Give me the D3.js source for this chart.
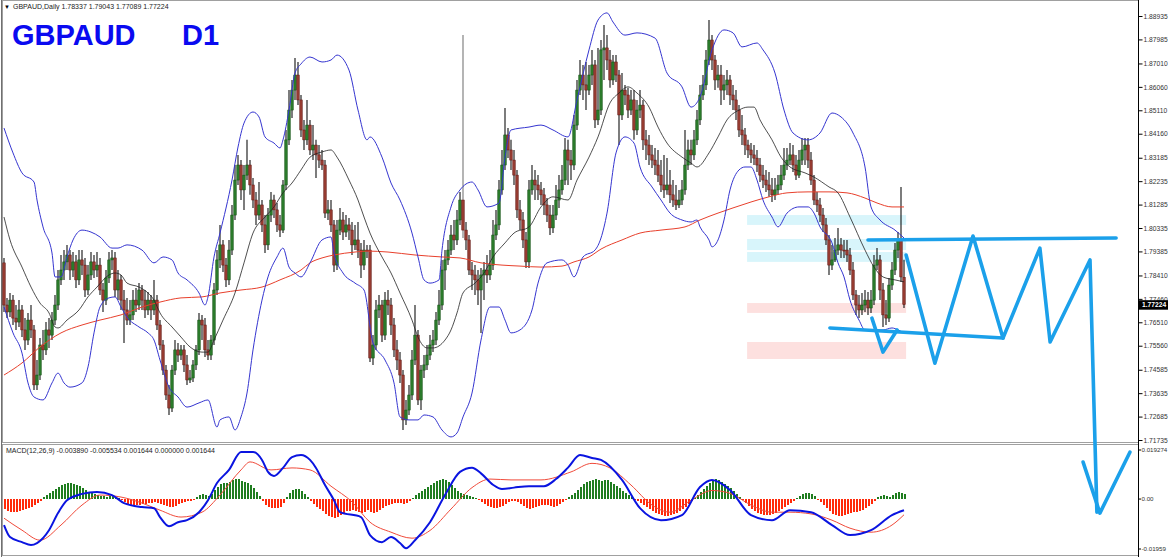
<!DOCTYPE html>
<html><head><meta charset="utf-8">
<script src="https://cdn.jsdelivr.net/npm/d3@7"></script>
<style>
html,body{margin:0;padding:0;background:#fff;overflow:hidden;}
svg{display:block;font-family:"Liberation Sans",Arial,sans-serif;}
</style></head><body>
<svg id="c" width="1168" height="557"></svg>
<script>
// ---------------- DATA ----------------
const symbolTitle = "GBPAUD";
const periodTitle = "D1";
const headerText = "GBPAUD,Daily  1.78337 1.79043 1.77089 1.77224";
const macdText = "MACD(12,26,9) -0.003890 -0.005534 0.001644 0.000000 0.001644";
const priceTicks = [1.88935,1.87985,1.87010,1.86060,1.85110,1.84160,1.83185,1.82235,1.81285,1.80335,1.79385,1.78410,1.77460,1.76510,1.75560,1.74585,1.73635,1.72685,1.71735];
const macdTicks = [0.019274, 0, -0.01959];
const macdTickLabels = ["0.019274","0.00","-0.01959"];
const lastPrice = 1.77224;

const opens = [
1.7892,1.7721,1.7693,1.7741,1.7668,1.7652,1.7701,1.7620,1.7579,1.7660,
1.7620,1.7397,1.7437,1.7559,1.7539,1.7620,1.7599,1.7660,1.7721,1.7823,
1.7863,1.7896,1.7924,1.7863,1.7896,1.7823,1.7904,1.7883,1.7782,1.7843,
1.7896,1.7863,1.7883,1.7782,1.7741,1.7831,1.7904,1.7912,1.7782,1.7823,
1.7741,1.7701,1.7660,1.7681,1.7741,1.7721,1.7782,1.7741,1.7701,1.7741,
1.7701,1.7741,1.7640,1.7559,1.7457,1.7356,1.7303,1.7457,1.7539,1.7518,
1.7539,1.7478,1.7417,1.7425,1.7478,1.7539,1.7660,1.7640,1.7539,1.7518,
1.7579,1.7782,1.7904,1.7965,1.7883,1.7823,1.7944,1.8086,1.8228,1.8289,
1.8188,1.8248,1.8289,1.8208,1.8147,1.8086,1.8127,1.8046,1.7965,1.8086,
1.8147,1.8107,1.8046,1.8025,1.8208,1.8391,1.8512,1.8593,1.8654,1.8553,
1.8431,1.8391,1.8451,1.8350,1.8370,1.8330,1.8309,1.8289,1.8094,1.8107,
1.8046,1.7883,1.8025,1.8066,1.8017,1.8046,1.8025,1.7965,1.7985,1.7944,
1.7883,1.7944,1.7944,1.7506,1.7559,1.7701,1.7721,1.7599,1.7741,1.7721,
1.7640,1.7539,1.7498,1.7437,1.7255,1.7295,1.7356,1.7498,1.7599,1.7336,
1.7457,1.7478,1.7518,1.7559,1.7579,1.7660,1.7721,1.7863,1.7904,1.7944,
1.8005,1.7985,1.8066,1.8147,1.8025,1.7985,1.7863,1.7843,1.7823,1.7782,
1.7843,1.7863,1.7843,1.7883,1.8005,1.8046,1.8188,1.8289,1.8411,1.8350,
1.8309,1.8248,1.8107,1.8066,1.7985,1.7896,1.8188,1.8228,1.8208,1.8188,
1.8168,1.8127,1.8086,1.8034,1.8086,1.8147,1.8188,1.8228,1.8350,1.8309,
1.8289,1.8451,1.8593,1.8654,1.8614,1.8593,1.8654,1.8695,1.8472,1.8512,
1.8756,1.8764,1.8715,1.8634,1.8707,1.8654,1.8492,1.8593,1.8573,1.8512,
1.8553,1.8431,1.8512,1.8532,1.8391,1.8370,1.8330,1.8309,1.8289,1.8248,
1.8208,1.8188,1.8208,1.8168,1.8147,1.8127,1.8147,1.8188,1.8289,1.8350,
1.8330,1.8391,1.8472,1.8573,1.8614,1.8715,1.8796,1.8715,1.8634,1.8654,
1.8593,1.8614,1.8634,1.8573,1.8553,1.8512,1.8431,1.8411,1.8370,1.8350,
1.8330,1.8317,1.8289,1.8248,1.8228,1.8208,1.8188,1.8168,1.8188,1.8208,
1.8248,1.8289,1.8309,1.8330,1.8289,1.8248,1.8309,1.8350,1.8370,1.8309,
1.8228,1.8147,1.8127,1.8086,1.8046,1.7985,1.7883,1.7904,1.7944,1.7965,
1.7944,1.7944,1.7924,1.7863,1.7762,1.7721,1.7701,1.7721,1.7741,1.7709,
1.7741,1.7883,1.7904,1.7782,1.7681,1.7668,1.7802,1.7863,1.7944,1.7985,
1.78337];
const highs = [
1.7912,1.7750,1.7770,1.7762,1.7721,1.7741,1.7721,1.7668,1.7689,1.7721,
1.7640,1.7498,1.7587,1.7620,1.7652,1.7668,1.7693,1.7762,1.7863,1.7924,
1.7944,1.7965,1.7944,1.7936,1.7924,1.7944,1.7944,1.7912,1.7883,1.7936,
1.7924,1.7936,1.7912,1.7810,1.7863,1.7936,1.7944,1.7936,1.7863,1.7843,
1.7782,1.7750,1.7741,1.7782,1.7790,1.7810,1.7802,1.7782,1.7774,1.7762,
1.7823,1.7762,1.7660,1.7579,1.7478,1.7397,1.7478,1.7579,1.7567,1.7559,
1.7559,1.7518,1.7457,1.7498,1.7559,1.7689,1.7681,1.7668,1.7579,1.7599,
1.7810,1.7944,1.8046,1.7985,1.7912,1.7985,1.8127,1.8289,1.8330,1.8309,
1.8289,1.8391,1.8309,1.8236,1.8180,1.8220,1.8147,1.8086,1.8115,1.8180,
1.8168,1.8135,1.8086,1.8228,1.8431,1.8593,1.8634,1.8723,1.8707,1.8573,
1.8472,1.8553,1.8472,1.8451,1.8391,1.8370,1.8350,1.8309,1.8147,1.8147,
1.8066,1.8066,1.8115,1.8098,1.8086,1.8074,1.8058,1.8046,1.8058,1.7973,
1.7985,1.7965,1.7965,1.7599,1.7741,1.7762,1.7741,1.7774,1.7782,1.7750,
1.7668,1.7579,1.7530,1.7457,1.7336,1.7397,1.7539,1.7721,1.7620,1.7478,
1.7518,1.7559,1.7599,1.7620,1.7693,1.7782,1.7904,1.7944,1.7985,1.8046,
1.8066,1.8107,1.8180,1.8816,1.8058,1.8005,1.7896,1.7883,1.7863,1.7871,
1.7896,1.7924,1.7944,1.8066,1.8107,1.8228,1.8350,1.8520,1.8439,1.8391,
1.8350,1.8269,1.8147,1.8098,1.8017,1.8228,1.8289,1.8269,1.8248,1.8220,
1.8196,1.8155,1.8127,1.8127,1.8208,1.8248,1.8289,1.8399,1.8391,1.8350,
1.8492,1.8634,1.8715,1.8695,1.8707,1.8695,1.8756,1.8715,1.8764,1.8796,
1.8857,1.8816,1.8756,1.8735,1.8735,1.8674,1.8662,1.8614,1.8602,1.8593,
1.8593,1.8553,1.8593,1.8553,1.8431,1.8411,1.8370,1.8358,1.8350,1.8309,
1.8330,1.8317,1.8269,1.8228,1.8208,1.8188,1.8228,1.8431,1.8391,1.8391,
1.8431,1.8512,1.8614,1.8654,1.8756,1.8877,1.8816,1.8735,1.8695,1.8695,
1.8654,1.8674,1.8654,1.8614,1.8593,1.8532,1.8492,1.8439,1.8391,1.8378,
1.8370,1.8350,1.8317,1.8289,1.8269,1.8261,1.8236,1.8236,1.8248,1.8289,
1.8358,1.8358,1.8378,1.8370,1.8330,1.8350,1.8399,1.8399,1.8399,1.8342,
1.8248,1.8180,1.8155,1.8115,1.8074,1.8005,1.7965,1.7993,1.8034,1.7993,
1.7985,1.7985,1.7952,1.7896,1.7782,1.7762,1.7770,1.7782,1.7774,1.7782,
1.7924,1.7952,1.7924,1.7810,1.7741,1.7831,1.7896,1.7973,1.8017,1.8200,
1.79043];
const lows = [
1.7693,1.7668,1.7672,1.7640,1.7620,1.7632,1.7591,1.7539,1.7559,1.7587,
1.7376,1.7376,1.7417,1.7498,1.7518,1.7547,1.7579,1.7640,1.7701,1.7802,
1.7823,1.7863,1.7823,1.7835,1.7790,1.7802,1.7843,1.7754,1.7762,1.7823,
1.7831,1.7835,1.7762,1.7693,1.7721,1.7810,1.7863,1.7754,1.7741,1.7701,
1.7567,1.7640,1.7640,1.7660,1.7693,1.7701,1.7701,1.7668,1.7681,1.7660,
1.7681,1.7620,1.7539,1.7437,1.7336,1.7275,1.7287,1.7437,1.7490,1.7498,
1.7449,1.7397,1.7405,1.7409,1.7457,1.7518,1.7579,1.7510,1.7498,1.7498,
1.7559,1.7762,1.7871,1.7855,1.7794,1.7802,1.7924,1.8066,1.8208,1.8147,
1.8107,1.8228,1.8168,1.8115,1.8046,1.8066,1.8017,1.7932,1.7944,1.8058,
1.8074,1.8017,1.7997,1.8013,1.8188,1.8370,1.8480,1.8553,1.8532,1.8403,
1.8350,1.8370,1.8330,1.8309,1.8236,1.8277,1.8269,1.8074,1.8066,1.8017,
1.7855,1.7863,1.8005,1.7985,1.7997,1.7985,1.7924,1.7944,1.7912,1.7831,
1.7863,1.7912,1.7490,1.7478,1.7539,1.7668,1.7571,1.7579,1.7681,1.7599,
1.7510,1.7457,1.7405,1.7214,1.7234,1.7275,1.7336,1.7478,1.7315,1.7295,
1.7425,1.7457,1.7498,1.7530,1.7559,1.7640,1.7701,1.7782,1.7883,1.7924,
1.7944,1.7965,1.8046,1.7993,1.7944,1.7843,1.7782,1.7762,1.7721,1.7608,
1.7741,1.7810,1.7823,1.7863,1.7985,1.8025,1.8168,1.8269,1.8317,1.8269,
1.8208,1.8074,1.8025,1.7952,1.7871,1.7871,1.8168,1.8147,1.8147,1.8127,
1.8086,1.8058,1.8005,1.8013,1.8066,1.8115,1.8168,1.8208,1.8208,1.8228,
1.8269,1.8431,1.8573,1.8553,1.8512,1.8573,1.8614,1.8439,1.8451,1.8492,
1.8634,1.8674,1.8602,1.8614,1.8626,1.8370,1.8472,1.8532,1.8480,1.8492,
1.8391,1.8411,1.8480,1.8350,1.8309,1.8289,1.8277,1.8248,1.8220,1.8180,
1.8155,1.8168,1.8135,1.8119,1.8107,1.8115,1.8127,1.8168,1.8269,1.8289,
1.8309,1.8370,1.8451,1.8553,1.8593,1.8695,1.8674,1.8593,1.8602,1.8532,
1.8553,1.8573,1.8532,1.8512,1.8472,1.8403,1.8370,1.8330,1.8317,1.8297,
1.8289,1.8261,1.8220,1.8196,1.8180,1.8160,1.8139,1.8147,1.8168,1.8188,
1.8228,1.8269,1.8289,1.8261,1.8228,1.8236,1.8289,1.8289,1.8277,1.8208,
1.8127,1.8098,1.8058,1.8017,1.7965,1.7843,1.7863,1.7896,1.7924,1.7912,
1.7912,1.7896,1.7843,1.7741,1.7681,1.7668,1.7681,1.7693,1.7681,1.7689,
1.7721,1.7863,1.7741,1.7632,1.7640,1.7652,1.7782,1.7843,1.7912,1.7814,
1.77089];
const closes = [
1.7721,1.7693,1.7741,1.7668,1.7652,1.7701,1.7620,1.7579,1.7660,1.7620,
1.7397,1.7437,1.7559,1.7539,1.7620,1.7599,1.7660,1.7721,1.7823,1.7863,
1.7896,1.7924,1.7863,1.7896,1.7823,1.7904,1.7883,1.7782,1.7843,1.7896,
1.7863,1.7883,1.7782,1.7741,1.7831,1.7904,1.7912,1.7782,1.7823,1.7741,
1.7701,1.7660,1.7681,1.7741,1.7721,1.7782,1.7741,1.7701,1.7741,1.7701,
1.7741,1.7640,1.7559,1.7457,1.7356,1.7303,1.7457,1.7539,1.7518,1.7539,
1.7478,1.7417,1.7425,1.7478,1.7539,1.7660,1.7640,1.7539,1.7518,1.7579,
1.7782,1.7904,1.7965,1.7883,1.7823,1.7944,1.8086,1.8228,1.8289,1.8188,
1.8248,1.8289,1.8208,1.8147,1.8086,1.8127,1.8046,1.7965,1.8086,1.8147,
1.8107,1.8046,1.8025,1.8208,1.8391,1.8512,1.8593,1.8654,1.8553,1.8431,
1.8391,1.8451,1.8350,1.8370,1.8330,1.8309,1.8289,1.8094,1.8107,1.8046,
1.7883,1.8025,1.8066,1.8017,1.8046,1.8025,1.7965,1.7985,1.7944,1.7883,
1.7944,1.7940,1.7506,1.7559,1.7701,1.7721,1.7599,1.7741,1.7721,1.7640,
1.7539,1.7498,1.7437,1.7255,1.7295,1.7356,1.7498,1.7599,1.7336,1.7457,
1.7478,1.7518,1.7559,1.7579,1.7660,1.7721,1.7863,1.7904,1.7944,1.8005,
1.7985,1.8066,1.8147,1.8025,1.7985,1.7863,1.7843,1.7823,1.7782,1.7843,
1.7863,1.7843,1.7883,1.8005,1.8046,1.8188,1.8289,1.8411,1.8350,1.8309,
1.8248,1.8107,1.8066,1.7985,1.7896,1.8188,1.8228,1.8208,1.8188,1.8168,
1.8127,1.8086,1.8034,1.8086,1.8147,1.8188,1.8228,1.8350,1.8309,1.8289,
1.8451,1.8593,1.8654,1.8614,1.8593,1.8654,1.8695,1.8472,1.8512,1.8756,
1.8764,1.8715,1.8634,1.8707,1.8654,1.8492,1.8593,1.8573,1.8512,1.8553,
1.8431,1.8512,1.8532,1.8391,1.8370,1.8330,1.8309,1.8289,1.8248,1.8208,
1.8188,1.8208,1.8168,1.8147,1.8127,1.8147,1.8188,1.8289,1.8350,1.8330,
1.8391,1.8472,1.8573,1.8614,1.8715,1.8796,1.8715,1.8634,1.8654,1.8593,
1.8614,1.8634,1.8573,1.8553,1.8512,1.8431,1.8411,1.8370,1.8350,1.8330,
1.8317,1.8289,1.8248,1.8228,1.8208,1.8188,1.8168,1.8188,1.8208,1.8248,
1.8289,1.8309,1.8330,1.8289,1.8248,1.8309,1.8350,1.8370,1.8309,1.8228,
1.8147,1.8127,1.8086,1.8046,1.7985,1.7883,1.7904,1.7944,1.7965,1.7944,
1.7940,1.7924,1.7863,1.7762,1.7721,1.7701,1.7721,1.7741,1.7709,1.7741,
1.7883,1.7904,1.7782,1.7681,1.7668,1.7802,1.7863,1.7944,1.7985,1.7835,
1.77224];

// Bollinger bands (20,2) and moving averages: [bar index, price]
const bbUpper = [[0,1.8439],[3,1.8338],[6,1.8257],[10,1.8220],[11,1.8147],[13,1.8038],[16,1.7932],[17,1.7835],[19,1.7835],[21,1.7916],[23,1.7985],[26,1.8025],[29,1.8017],[32,1.7997],[36,1.7952],[38,1.7952],[41,1.7965],[46,1.7944],[50,1.7892],[53,1.7916],[56,1.7904],[58,1.7851],[61,1.7823],[65,1.7770],[67,1.7721],[68,1.7754],[70,1.7916],[72,1.8013],[76,1.8228],[78,1.8362],[80,1.8459],[83,1.8504],[85,1.8484],[87,1.8403],[90,1.8378],[92,1.8358],[93,1.8391],[95,1.8512],[97,1.8662],[99,1.8699],[102,1.8727],[106,1.8707],[109,1.8715],[111,1.8735],[115,1.8674],[118,1.8512],[121,1.8391],[122,1.8403],[126,1.8321],[129,1.8216],[132,1.8147],[136,1.8013],[138,1.7916],[140,1.7823],[142,1.7810],[145,1.7823],[146,1.7944],[149,1.8119],[152,1.8188],[156,1.8220],[158,1.8188],[161,1.8119],[165,1.8135],[167,1.8321],[169,1.8431],[175,1.8443],[179,1.8451],[183,1.8431],[188,1.8403],[191,1.8553],[195,1.8756],[198,1.8877],[201,1.8906],[203,1.8869],[207,1.8816],[211,1.8825],[217,1.8804],[221,1.8662],[226,1.8606],[229,1.8524],[232,1.8565],[236,1.8756],[240,1.8837],[243,1.8825],[246,1.8768],[251,1.8784],[253,1.8756],[257,1.8662],[260,1.8512],[263,1.8419],[268,1.8391],[272,1.8419],[276,1.8500],[279,1.8484],[283,1.8419],[287,1.8281],[289,1.8119],[292,1.8066],[297,1.8025],[300,1.7993]];
const bbMiddle = [[0,1.8078],[2,1.7985],[6,1.7875],[9,1.7794],[12,1.7729],[15,1.7689],[17,1.7632],[18,1.7628],[21,1.7660],[25,1.7701],[28,1.7754],[31,1.7794],[35,1.7843],[37,1.7851],[39,1.7843],[41,1.7810],[45,1.7794],[48,1.7770],[50,1.7741],[52,1.7689],[56,1.7632],[59,1.7591],[62,1.7551],[66,1.7530],[68,1.7530],[70,1.7579],[73,1.7660],[77,1.7770],[80,1.7892],[83,1.8013],[87,1.8078],[90,1.8119],[93,1.8176],[96,1.8216],[99,1.8269],[102,1.8321],[106,1.8342],[109,1.8350],[111,1.8321],[115,1.8228],[118,1.8147],[120,1.8078],[122,1.8013],[126,1.7916],[129,1.7851],[132,1.7770],[136,1.7660],[138,1.7591],[141,1.7547],[143,1.7547],[147,1.7579],[149,1.7620],[151,1.7689],[153,1.7770],[157,1.7810],[160,1.7851],[163,1.7916],[167,1.7973],[170,1.8013],[175,1.8038],[179,1.8119],[183,1.8160],[188,1.8147],[191,1.8228],[195,1.8321],[198,1.8403],[202,1.8541],[205,1.8581],[208,1.8606],[211,1.8581],[215,1.8524],[218,1.8443],[221,1.8378],[226,1.8321],[229,1.8297],[231,1.8281],[235,1.8338],[238,1.8403],[241,1.8472],[245,1.8512],[248,1.8524],[250,1.8524],[252,1.8472],[256,1.8391],[259,1.8321],[262,1.8281],[267,1.8257],[270,1.8240],[275,1.8200],[278,1.8176],[282,1.8078],[287,1.7944],[290,1.7875],[293,1.7835],[297,1.7823],[300,1.7815]];
const bbLower = [[0,1.7713],[3,1.7608],[6,1.7526],[8,1.7405],[10,1.7348],[13,1.7336],[16,1.7405],[18,1.7445],[20,1.7405],[22,1.7388],[26,1.7405],[28,1.7470],[30,1.7608],[32,1.7713],[35,1.7750],[37,1.7754],[39,1.7713],[41,1.7672],[45,1.7632],[48,1.7608],[50,1.7579],[52,1.7498],[55,1.7388],[58,1.7348],[61,1.7307],[65,1.7324],[68,1.7336],[71,1.7226],[72,1.7255],[75,1.7267],[77,1.7214],[79,1.7267],[81,1.7364],[83,1.7539],[86,1.7741],[88,1.7835],[91,1.7916],[93,1.7952],[95,1.7875],[97,1.7851],[99,1.7835],[102,1.7892],[106,1.7985],[109,1.7997],[110,1.7932],[113,1.7851],[117,1.7810],[120,1.7782],[123,1.7567],[127,1.7498],[130,1.7405],[132,1.7267],[135,1.7255],[138,1.7255],[140,1.7275],[143,1.7267],[146,1.7214],[149,1.7186],[151,1.7202],[153,1.7267],[156,1.7364],[159,1.7579],[162,1.7713],[165,1.7713],[167,1.7660],[169,1.7608],[172,1.7620],[176,1.7701],[178,1.7810],[181,1.7892],[186,1.7904],[188,1.7883],[190,1.7835],[193,1.7916],[197,1.7944],[199,1.7993],[201,1.8094],[204,1.8338],[207,1.8403],[210,1.8378],[212,1.8281],[216,1.8200],[219,1.8147],[222,1.8094],[226,1.8066],[229,1.8058],[231,1.8066],[232,1.8038],[235,1.7985],[236,1.7957],[238,1.7985],[240,1.8066],[242,1.8188],[245,1.8269],[247,1.8281],[249,1.8281],[251,1.8228],[253,1.8147],[256,1.8078],[258,1.8038],[261,1.8094],[265,1.8119],[268,1.8119],[270,1.8094],[272,1.8038],[276,1.7973],[278,1.7892],[280,1.7835],[282,1.7741],[285,1.7660],[287,1.7620],[290,1.7620],[293,1.7620],[296,1.7628],[298,1.7620],[300,1.7608]];
const slowMA = [[0,1.7437],[6,1.7486],[12,1.7551],[19,1.7608],[26,1.7640],[32,1.7660],[39,1.7681],[46,1.7713],[52,1.7733],[59,1.7750],[66,1.7754],[72,1.7770],[79,1.7782],[86,1.7794],[92,1.7823],[99,1.7863],[102,1.7892],[106,1.7912],[110,1.7924],[117,1.7936],[121,1.7940],[128,1.7936],[137,1.7924],[146,1.7916],[152,1.7912],[159,1.7892],[166,1.7883],[172,1.7879],[179,1.7875],[186,1.7879],[190,1.7896],[195,1.7916],[199,1.7948],[206,1.7985],[212,1.8013],[219,1.8025],[227,1.8038],[232,1.8066],[238,1.8094],[243,1.8115],[249,1.8139],[255,1.8160],[261,1.8176],[268,1.8180],[275,1.8180],[281,1.8176],[287,1.8155],[291,1.8135],[296,1.8119],[300,1.8119]];

// MACD(12,26,9)
const macdHist = [
-0.0035,-0.0042,-0.0046,-0.0046,-0.0046,-0.0042,-0.0039,-0.0035,-0.0032,-0.0028,-0.0021,-0.0014,-0.0007,
0.0007,0.0014,0.0021,0.0028,0.0035,0.0042,0.0049,0.0053,0.0056,0.0056,0.0053,0.0049,0.0046,0.0039,0.0032,0.0025,0.0021,0.0018,0.0014,0.0011,0.0011,0.0007,0.0011,0.0011,0.0007,0.0004,
-0.0004,-0.0011,-0.0018,-0.0021,-0.0025,-0.0021,-0.0021,-0.0018,-0.0018,-0.0014,-0.0014,-0.0011,-0.0014,-0.0018,-0.0021,-0.0025,-0.0028,-0.0028,-0.0025,-0.0018,-0.0014,-0.0011,-0.0007,-0.0007,-0.0004,
0.0007,0.0014,0.0018,0.0014,0.0011,0.0018,0.0032,0.0042,0.0053,0.0056,0.0056,0.0060,0.0067,0.0070,0.0070,0.0063,0.0060,0.0056,0.0049,0.0039,0.0025,0.0011,
-0.0007,-0.0021,-0.0028,-0.0032,-0.0032,-0.0032,-0.0028,-0.0014,
0.0007,0.0021,0.0032,0.0035,0.0035,0.0028,0.0018,0.0007,
-0.0007,-0.0018,-0.0028,-0.0035,-0.0042,-0.0053,-0.0060,-0.0063,-0.0067,-0.0063,-0.0056,-0.0049,-0.0042,-0.0042,-0.0039,-0.0042,-0.0046,-0.0049,-0.0046,-0.0039,-0.0046,-0.0049,-0.0046,-0.0039,-0.0032,-0.0025,-0.0021,-0.0018,-0.0014,-0.0014,-0.0014,-0.0018,-0.0014,-0.0007,
0.0004,0.0014,0.0021,0.0028,0.0035,0.0042,0.0049,0.0056,0.0063,0.0067,0.0070,0.0067,0.0060,0.0049,0.0039,0.0028,0.0021,0.0018,0.0014,0.0011,0.0007,0.0004,
-0.0004,-0.0011,-0.0018,-0.0025,-0.0028,-0.0032,-0.0032,-0.0028,-0.0025,-0.0018,-0.0011,-0.0007,-0.0007,-0.0011,-0.0018,-0.0025,-0.0032,-0.0035,-0.0032,-0.0028,-0.0025,-0.0021,-0.0021,-0.0021,-0.0025,-0.0028,-0.0025,-0.0018,-0.0011,
-0.0004,0.0007,0.0014,0.0021,0.0032,0.0042,0.0053,0.0060,0.0063,0.0067,0.0070,0.0067,0.0063,0.0067,0.0067,0.0060,0.0053,0.0046,0.0039,0.0028,0.0021,0.0014,0.0007,
-0.0004,-0.0007,-0.0014,-0.0021,-0.0028,-0.0035,-0.0042,-0.0049,-0.0053,-0.0056,-0.0060,-0.0060,-0.0056,-0.0053,-0.0049,-0.0042,-0.0035,-0.0028,-0.0018,
-0.0007,0.0004,0.0014,0.0025,0.0035,0.0046,0.0056,0.0067,0.0070,0.0067,0.0060,0.0053,0.0046,0.0039,0.0028,0.0018,
0.0007,-0.0004,-0.0014,-0.0025,-0.0035,-0.0042,-0.0049,-0.0053,-0.0056,-0.0056,-0.0056,-0.0053,-0.0049,-0.0042,-0.0035,-0.0028,-0.0021,-0.0014,
-0.0007,0.0004,0.0011,0.0018,0.0021,0.0021,0.0018,0.0011,
-0.0004,-0.0011,-0.0021,-0.0032,-0.0042,-0.0053,-0.0056,-0.0060,-0.0060,-0.0056,-0.0053,-0.0049,-0.0046,-0.0046,-0.0042,-0.0039,-0.0032,-0.0025,-0.0018,
-0.0007,0.0007,0.0011,0.0014,0.0011,0.0007,0.0014,0.0021,0.0025,0.0021,0.0016];
const macdMain = [[0,-0.0091],[2,-0.0133],[6,-0.0151],[9,-0.0161],[11,-0.0154],[15,-0.0109],[18,-0.0049],[21,-0.0004],[26,0.0018],[31,0.0025],[36,0.0014],[40,-0.0014],[46,-0.0028],[50,-0.0032],[52,-0.0063],[55,-0.0095],[58,-0.0081],[61,-0.0074],[65,-0.0046],[68,-0.0004],[71,0.0056],[75,0.0102],[79,0.0165],[83,0.0165],[86,0.0137],[88,0.0095],[90,0.0081],[93,0.0109],[96,0.0147],[99,0.0154],[102,0.0137],[104,0.0109],[107,0.0049],[110,-0.0004],[112,-0.0046],[119,-0.0063],[122,-0.0126],[126,-0.0151],[129,-0.0133],[132,-0.0154],[134,-0.0172],[137,-0.0144],[142,-0.0081],[147,0.0014],[152,0.0095],[156,0.0110],[159,0.0090],[163,0.0050],[166,0.0035],[170,0.0040],[175,0.0045],[180,0.0045],[184,0.0070],[188,0.0110],[192,0.0154],[196,0.0144],[199,0.0137],[206,0.0067],[212,-0.0032],[219,-0.0074],[226,-0.0056],[232,0.0042],[236,0.0067],[242,0.0032],[249,-0.0056],[256,-0.0074],[262,-0.0039],[269,-0.0046],[276,-0.0091],[282,-0.0126],[289,-0.0109],[296,-0.0056],[300,-0.0039]];
const macdSignal = [[0,-0.0067],[6,-0.0109],[12,-0.0144],[19,-0.0091],[26,-0.0021],[32,0.0014],[39,0.0007],[46,-0.0014],[52,-0.0039],[59,-0.0063],[66,-0.0046],[72,0.0014],[79,0.0102],[82,0.0130],[89,0.0102],[96,0.0109],[102,0.0102],[109,0.0045],[116,-0.0010],[122,-0.0081],[129,-0.0116],[136,-0.0137],[142,-0.0110],[149,-0.0035],[156,0.0040],[162,0.0070],[169,0.0067],[179,0.0067],[189,0.0095],[196,0.0125],[202,0.0109],[209,0.0049],[216,-0.0021],[222,-0.0046],[229,-0.0004],[236,0.0030],[242,0.0020],[249,-0.0021],[256,-0.0046],[262,-0.0046],[269,-0.0052],[276,-0.0074],[282,-0.0102],[289,-0.0116],[296,-0.0091],[300,-0.0055]];

// Support / resistance zones (from bar 248 to the last bar)
const zoneStart = 247.7, zoneEnd = 300.7;
const zoneTop = [1.8086,1.7989,1.7936,1.7729,1.7571];
const zoneBottom = [1.8046,1.7944,1.7896,1.7689,1.7502];
const zoneKind = ["supply","supply","supply","demand","demand"];

// Hand-drawn projection lines: [bar index, price]
const resistanceLine = [[288,1.7985],[370.7,1.7993]];
const supportLine = [[275.3,1.7628],[333,1.7587]];
const smallZigzag = [[289.3,1.7668],[293,1.7530],[297.7,1.7620]];
const bigZigzag = [[300.7,1.7924],[310.3,1.7485],[323,1.8001],[333,1.7587],[345.3,1.7952],[348.7,1.7571],[362,1.7904],[364.3,1.6881]];
const arrowHead = [[359.7,1.7084],[365.3,1.6877],[375.3,1.7124]];

// ---------------- DRAW ----------------
const svg = d3.select("#c");
const axisX = 1138;
const x = d3.scaleLinear().domain([0, 300]).range([4, 904]);
const y = d3.scaleLinear().domain([1.71735, 1.88935]).range([440, 16]);
const ym = d3.scaleLinear().domain([-0.01959, 0.019274]).range([555, 444]);

svg.append("rect").attr("width",1168).attr("height",557).attr("fill","#fff");

// panel frames
svg.append("rect").attr("x",2.5).attr("y",0.5).attr("width",axisX-2).attr("height",442)
  .attr("fill","none").attr("stroke","#a0a0a0");
svg.append("rect").attr("x",2.5).attr("y",444.5).attr("width",axisX-2).attr("height",111)
  .attr("fill","none").attr("stroke","#a0a0a0");
svg.append("line").attr("x1",1.5).attr("x2",1.5).attr("y1",0).attr("y2",557).attr("stroke","#707070");

// zones
const zones = zoneTop.map((t,i)=>({t, b:zoneBottom[i], k:zoneKind[i]}));
svg.append("g").selectAll("rect").data(zones).join("rect")
  .attr("x", x(zoneStart)).attr("width", x(zoneEnd)-x(zoneStart))
  .attr("y", d=>y(d.t)).attr("height", d=>y(d.b)-y(d.t))
  .attr("fill", d=>d.k==="supply" ? "#d8f5fb" : "#fde0df");

// candles
const idx = d3.range(closes.length);
const cg = svg.append("g");
cg.selectAll("line").data(idx).join("line")
  .attr("x1", i=>x(i)).attr("x2", i=>x(i))
  .attr("y1", i=>y(highs[i])).attr("y2", i=>y(lows[i]))
  .attr("stroke", i=> (i===153) ? "#777" : "#111").attr("stroke-width",1.1);
cg.selectAll("rect").data(idx).join("rect")
  .attr("x", i=>x(i)-1.25).attr("width",2.5)
  .attr("y", i=>y(Math.max(opens[i],closes[i])))
  .attr("height", i=>Math.max(1, Math.abs(y(opens[i])-y(closes[i]))))
  .attr("fill", i=> closes[i]>=opens[i] ? "#2a7a2a" : "#953a30")
  .attr("stroke", i=> closes[i]>=opens[i] ? "#0d4d0d" : "#5e1410").attr("stroke-width",0.5);

// indicator lines
const pline = d3.line().x(d=>x(d[0])).y(d=>y(d[1])).curve(d3.curveMonotoneX);
svg.append("path").attr("d",pline(slowMA)).attr("fill","none").attr("stroke","#e8402c").attr("stroke-width",1);
svg.append("path").attr("d",pline(bbMiddle)).attr("fill","none").attr("stroke","#222").attr("stroke-width",0.8);
[bbUpper,bbLower].forEach(b=>svg.append("path").attr("d",pline(b)).attr("fill","none").attr("stroke","#3535d0").attr("stroke-width",1));

// MACD histogram
svg.append("g").attr("shape-rendering","crispEdges").selectAll("rect").data(idx).join("rect")
  .attr("x", i=>Math.round(x(i))-0.5).attr("width",2)
  .attr("y", i=>Math.min(ym(0), ym(macdHist[i])))
  .attr("height", i=>Math.max(1, Math.abs(ym(macdHist[i])-ym(0))))
  .attr("fill", i=> macdHist[i]>=0 ? "#1f7d1f" : "#ff2a0a");
const mline = d3.line().x(d=>x(d[0])).y(d=>ym(d[1])).curve(d3.curveMonotoneX);
svg.append("path").attr("d",mline(macdSignal)).attr("fill","none").attr("stroke","#f04a3a").attr("stroke-width",1);
svg.append("path").attr("d",mline(macdMain)).attr("fill","none").attr("stroke","#0a14e0").attr("stroke-width",2);

// projection drawings
const aline = d3.line().x(d=>x(d[0])).y(d=>y(d[1]));
[resistanceLine, supportLine, smallZigzag, bigZigzag, arrowHead].forEach(p=>
  svg.append("path").attr("d",aline(p)).attr("fill","none").attr("stroke","#1ba0ea")
    .attr("stroke-width",3.6).attr("stroke-linejoin","round").attr("stroke-linecap","round"));

// right price axis
const ax = d3.axisRight(y).tickValues(priceTicks).tickSize(4).tickSizeOuter(0).tickPadding(1)
  .tickFormat(d=>d.toFixed(5));
const axg = svg.append("g").attr("transform",`translate(${axisX+0.5},0)`).call(ax);
axg.select(".domain").remove();
axg.selectAll("line").attr("stroke","#000");
axg.selectAll("text").attr("font-family","Liberation Sans, Arial, sans-serif").attr("font-size",6.7).attr("fill","#333");
svg.append("line").attr("x1",axisX+0.5).attr("x2",axisX+0.5).attr("y1",0).attr("y2",557).attr("stroke","#000");

// MACD axis labels
const mg = svg.append("g");
macdTicks.forEach((v,k)=>{
  const yy = Math.min(Math.max(ym(v), 450), 549);
  mg.append("line").attr("x1",axisX).attr("x2",axisX+3).attr("y1",yy).attr("y2",yy).attr("stroke","#000");
  mg.append("text").attr("x",axisX+3.5).attr("y",yy).attr("dy","0.35em").attr("font-size",6.2).attr("fill","#333").text(macdTickLabels[k]);
});

// current price label
svg.append("rect").attr("x",axisX+1).attr("y",y(lastPrice)-4.5).attr("width",30).attr("height",9.5).attr("fill","#000");
svg.append("text").attr("x",axisX+4).attr("y",y(lastPrice)).attr("dy","0.35em").attr("font-size",6.7)
  .attr("fill","#fff").attr("font-weight","bold").text(lastPrice.toFixed(5));

// texts
svg.append("text").attr("x",4).attr("y",8.5).attr("font-size",6).attr("fill","#000").text("\u25BC");
svg.append("text").attr("x",13).attr("y",9).attr("font-size",7).attr("fill","#222").text(headerText);
svg.append("text").attr("x",12).attr("y",45).attr("font-size",29).attr("font-weight","bold").attr("fill","#0a0af0").text(symbolTitle);
svg.append("text").attr("x",182).attr("y",45).attr("font-size",29).attr("font-weight","bold").attr("fill","#0a0af0").text(periodTitle);
svg.append("text").attr("x",6).attr("y",453).attr("font-size",7).attr("fill","#222").text(macdText);
</script>
</body></html>
